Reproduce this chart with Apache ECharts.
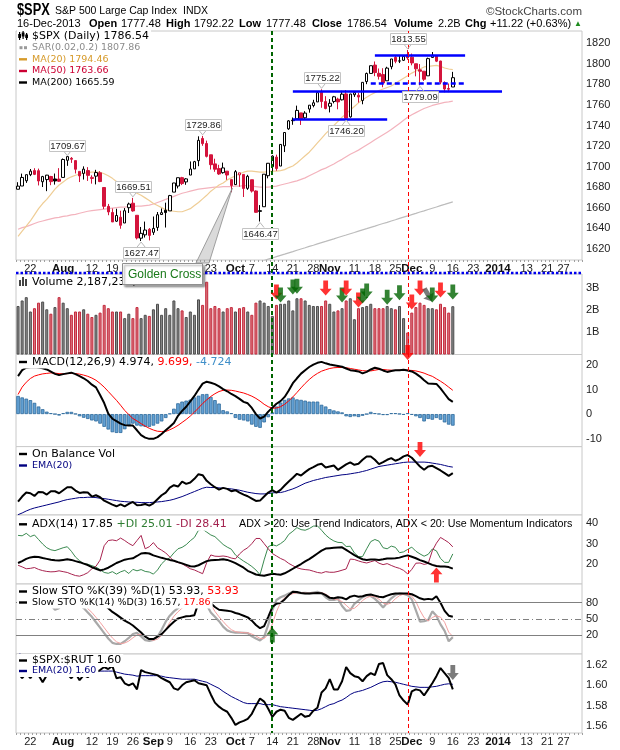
<!DOCTYPE html>
<html>
<head>
<meta charset="utf-8">
<title>$SPX daily</title>
<script src="https://cdn.jsdelivr.net/npm/echarts@6.0.0/dist/echarts.min.js"></script>
<style>
  html, body { margin: 0; padding: 0; background: #fff; }
  #chart { width: 620px; height: 750px; }
</style>
</head>
<body>
<div id="chart"></div>
<script>
// --- Data ---

const dates = ['07-17','07-18','07-19','07-22','07-23','07-24','07-25','07-26','07-29','07-30','07-31',
  '08-01','08-02','08-05','08-06','08-07','08-08','08-09','08-12','08-13','08-14','08-15','08-16','08-19','08-20','08-21','08-22','08-23','08-26','08-27','08-28','08-29','08-30',
  '09-03','09-04','09-05','09-06','09-09','09-10','09-11','09-12','09-13','09-16','09-17','09-18','09-19','09-20','09-23','09-24','09-25','09-26','09-27','09-30',
  '10-01','10-02','10-03','10-04','10-07','10-08','10-09','10-10','10-11','10-14','10-15','10-16','10-17','10-18','10-21','10-22','10-23','10-24','10-25','10-28','10-29','10-30','10-31',
  '11-01','11-04','11-05','11-06','11-07','11-08','11-11','11-12','11-13','11-14','11-15','11-18','11-19','11-20','11-21','11-22','11-25','11-26','11-27','11-29',
  '12-02','12-03','12-04','12-05','12-06','12-09','12-10','12-11','12-12','12-13','12-16',
  '12-17','12-18','12-19','12-20','12-23','12-24','12-26','12-27','12-30','12-31',
  '01-02','01-03','01-06','01-07','01-08','01-09','01-10','01-13','01-14','01-15','01-16','01-17','01-21','01-22','01-23','01-24','01-27','01-28','01-29','01-30','01-31'];

const tickDates = ['07-22','08-01','08-12','08-19','08-26','09-03','09-09','09-16','09-23','10-01','10-07','10-14','10-21','10-28','11-01','11-11','11-18','11-25','12-02','12-09','12-16','12-23','01-02','01-13','01-21','01-27'];
const tickTexts = ['22','Aug','12','19','26','Sep','9','16','23','Oct','7','14','21','28','Nov','11','18','25','Dec','9','16','23','2014','13','21','27'];
const boldTicks = ['Aug','Sep','Oct','Nov','Dec','2014'];

const opens = [1677.91,1681.05,1686.15,1692.09,1696.06,1695.95,1685.21,1687.31,1690.32,1687.92,1687.76,
  1689.42,1706.10,1708.01,1705.79,1695.30,1693.35,1696.10,1688.37,1690.65,1693.88,1679.61,1661.22,1655.25,1646.81,1650.66,1645.03,1659.92,1664.29,1652.54,1630.25,1633.50,1638.89,
  1635.95,1640.72,1653.28,1657.44,1656.85,1675.11,1681.04,1689.21,1685.04,1691.70,1697.73,1705.74,1727.34,1722.44,1711.44,1702.60,1698.02,1694.05,1695.52,1687.26,
  1682.41,1691.90,1692.35,1678.79,1687.15,1676.22,1656.99,1660.88,1691.09,1699.86,1709.17,1700.49,1720.17,1736.72,1745.20,1746.48,1752.27,1747.48,1756.01,1759.42,1762.93,1772.27,1763.24,
  1758.70,1763.40,1765.67,1765.00,1770.74,1748.37,1769.96,1769.51,1764.37,1782.75,1790.66,1798.82,1790.79,1789.59,1783.52,1797.21,1806.33,1802.87,1803.48,1808.69,
  1806.55,1800.10,1794.15,1792.82,1788.36,1806.21,1807.60,1802.76,1781.71,1776.01,1777.48];
const highs = [1684.75,1693.12,1692.09,1697.61,1698.38,1698.00,1690.94,1691.85,1690.92,1693.19,1698.43,
  1707.85,1709.67,1709.24,1705.79,1695.30,1700.18,1699.42,1691.49,1696.81,1695.52,1679.61,1663.60,1659.18,1658.92,1656.99,1659.55,1664.85,1669.51,1652.54,1641.18,1646.41,1640.08,
  1651.35,1655.72,1659.17,1664.83,1672.40,1684.09,1689.13,1689.97,1688.73,1704.95,1705.52,1729.44,1729.86,1725.23,1711.44,1707.63,1701.71,1703.85,1695.52,1687.26,
  1696.55,1693.87,1692.35,1691.94,1687.15,1676.79,1662.47,1692.56,1703.44,1711.03,1711.57,1721.76,1733.45,1745.31,1747.79,1759.33,1752.27,1753.94,1759.82,1764.99,1772.09,1775.22,1768.53,
  1765.67,1768.78,1767.03,1773.74,1774.54,1770.78,1773.44,1771.78,1782.00,1791.53,1798.22,1802.33,1795.51,1795.73,1797.16,1804.84,1808.10,1808.42,1808.27,1813.55,
  1810.02,1800.10,1799.80,1792.82,1806.04,1811.52,1808.52,1802.97,1782.99,1780.88,1792.22];
const lows = [1677.91,1681.05,1684.08,1690.67,1691.71,1681.61,1680.07,1676.03,1681.86,1682.42,1684.94,
  1689.42,1700.68,1703.55,1693.29,1684.91,1687.36,1686.02,1683.35,1682.62,1684.83,1658.59,1652.61,1646.06,1646.08,1639.43,1645.03,1654.81,1656.02,1629.05,1627.47,1630.88,1628.05,
  1633.41,1637.41,1653.07,1640.62,1656.85,1675.11,1678.70,1681.96,1682.22,1691.70,1697.73,1700.35,1720.20,1708.89,1697.10,1694.90,1691.88,1693.11,1687.11,1674.99,
  1682.07,1680.34,1670.36,1677.33,1674.70,1655.03,1646.47,1660.88,1688.52,1692.13,1695.93,1700.49,1714.12,1735.74,1740.67,1746.48,1740.50,1745.50,1752.45,1757.67,1762.93,1757.24,1755.72,
  1752.70,1761.56,1755.76,1764.40,1746.20,1747.63,1767.85,1762.29,1760.64,1780.22,1790.66,1788.00,1784.72,1777.23,1783.52,1794.70,1800.58,1800.77,1802.77,1803.98,
  1798.60,1787.85,1779.09,1783.38,1788.36,1806.21,1801.75,1780.09,1772.28,1772.45,1777.48];
const closes = [1680.91,1689.37,1692.09,1695.53,1692.39,1685.94,1690.25,1691.65,1685.33,1685.96,1685.73,
  1706.87,1709.67,1707.14,1697.37,1690.91,1697.48,1691.42,1689.47,1694.16,1685.39,1661.32,1655.83,1646.06,1652.35,1642.80,1656.96,1663.50,1656.78,1630.48,1634.96,1638.17,1632.97,
  1639.77,1653.08,1655.08,1655.17,1671.71,1683.99,1689.13,1683.42,1687.99,1697.60,1704.76,1725.52,1722.34,1709.91,1701.84,1697.42,1692.77,1698.67,1691.75,1681.55,
  1695.00,1693.87,1678.66,1690.50,1676.12,1655.45,1656.40,1692.56,1703.20,1710.14,1698.06,1721.54,1733.15,1744.50,1744.66,1754.67,1746.38,1752.07,1759.77,1762.11,1771.95,1763.31,1756.54,
  1761.64,1767.93,1762.97,1770.49,1747.15,1770.61,1771.89,1767.69,1782.00,1790.62,1798.18,1791.53,1787.87,1781.37,1795.85,1804.76,1802.48,1802.75,1807.23,1805.81,
  1800.90,1795.15,1792.81,1785.03,1805.09,1808.37,1802.62,1782.22,1775.50,1775.32,1786.54];

const ma20 = [1632,1637,1642,1647,1653,1659,1664,1668,1673,1678,
  1682,1685,1688,1690,1691.5,1692.5,1693.5,1694,1694.5,1694.5,
  1694.5,1693,1691,1688.5,1685.5,1683,1680.5,1678,1676,1674,
  1672,1669.5,1667,1664,1662,1660,1658,1657,1656.5,1656,
  1656,1657.5,1659,1662,1665,1668.5,1672,1676,1679,1682,
  1684,1687,1689,1691,1693,1694.5,1695.5,1695.5,1695,1694.5,
  1694.5,1695,1695.5,1695.5,1696,1697,1699,1700.5,1703.5,1707,
  1710.5,1714,1718.5,1723,1727.5,1732,1736,1740,1744,1748,
  1751.5,1755,1758.5,1762,1765,1767.5,1770,1772,1774,1775.5,
  1777,1778.5,1781,1783.5,1786,1788.5,1791,1793,1795,1797,
  1797.5,1798,1798.5,1797.5,1796,1795,1794.46];
const ma50 = [1639,1640.5,1641.5,1643,1644.5,1646,1647,1648,1649,1650,
  1650.5,1651.5,1652,1653,1653.5,1654.5,1655.5,1656.5,1657,1657.5,
  1658,1658.5,1659,1659.5,1660,1660.5,1660.5,1661,1661,1661.5,
  1661.5,1662,1662.5,1663.5,1665,1666.5,1668,1669.5,1671,1672.5,
  1674,1675,1676,1677,1678,1678.5,1679,1679.5,1680,1680,
  1680.5,1680.5,1680.5,1681,1681,1681.5,1681.5,1681,1680.5,1680,
  1680,1680,1680.5,1681,1682,1683,1684,1685,1686,1687.5,
  1689,1691,1693,1695,1697,1698.5,1700.5,1702.5,1705,1707,
  1709.5,1712,1714,1716,1718.5,1721,1723.5,1726,1728.5,1731,
  1733.5,1736,1739,1742,1745,1748,1750.5,1752.5,1754.5,1756.5,
  1758,1759.5,1760.5,1761.5,1762.5,1763,1763.66];
const ma200 = [1538.6,1539.8,1540.9,1542.1,1543.2,1544.4,1545.5,1546.7,1547.8,1549.0,
  1550.1,1551.3,1552.4,1553.6,1554.7,1555.9,1557.0,1558.2,1559.3,1560.5,
  1561.6,1562.8,1563.9,1565.1,1566.2,1567.4,1568.5,1569.7,1570.8,1572.0,
  1573.1,1574.3,1575.4,1576.6,1577.7,1578.9,1580.0,1581.2,1582.3,1583.5,
  1584.6,1585.8,1586.9,1588.1,1589.2,1590.4,1591.5,1592.7,1593.8,1595.0,
  1596.1,1597.4,1598.6,1599.9,1601.1,1602.3,1603.6,1604.8,1606.1,1607.3,
  1608.5,1609.8,1611.0,1612.3,1613.5,1614.7,1616.0,1617.2,1618.5,1619.7,
  1620.9,1622.2,1623.4,1624.7,1625.9,1627.1,1628.4,1629.6,1630.9,1632.1,
  1633.3,1634.6,1635.8,1637.1,1638.3,1639.5,1640.8,1642.0,1643.3,1644.5,
  1645.7,1647.0,1648.2,1649.5,1650.7,1651.9,1653.2,1654.4,1655.7,1656.9,
  1658.2,1659.4,1660.6,1661.9,1663.1,1664.4,1665.59];

// volume in billions
const volumes = [2.2,2.45,2.6,1.95,2.1,2.35,2.4,2.05,1.85,2.15,
  2.6,2.35,2.1,1.8,1.95,1.95,2.05,1.85,1.7,1.8,
  1.9,2.25,2.1,1.95,1.95,1.95,1.65,1.85,1.65,2.15,
  1.65,1.8,1.75,2.05,2.3,1.8,2.1,1.8,2.45,2.1,
  2.0,1.7,1.95,1.8,2.5,2.25,3.3,2.1,2.2,2.1,
  1.95,2.1,2.15,1.95,2.1,2.15,1.95,1.8,2.35,2.45,
  2.35,2.2,1.75,2.25,2.3,2.3,2.45,2.0,2.55,2.55,
  2.45,2.25,2.2,2.2,2.2,2.45,2.3,1.95,2.0,2.1,
  2.45,2.55,1.6,2.1,2.15,2.2,2.3,2.1,2.1,2.1,
  2.2,2.1,2.05,2.2,1.65,1.0,1.9,2.15,2.35,2.25,
  2.1,2.1,2.05,2.3,2.15,1.9,2.19];

const macdLine = [15.5,17.9,18.9,19.1,19.2,19.0,18.7,18.2,17.3,16.4,
  15.9,16.3,16.6,16.9,16.3,15.5,14.6,13.5,12.0,10.9,
  7.8,4.5,0.2,-1.9,-2.9,-3.9,-4.5,-4.7,-4.7,-6.6,
  -8.6,-9.6,-10.1,-10.1,-9.4,-8.1,-6.6,-5.2,-3.6,-0.7,
  1.3,3.0,5.2,7.4,10.0,12.4,13.2,12.8,12.2,11.3,
  10.2,9.3,8.2,7.3,6.2,5.0,4.4,2.5,0.0,-1.8,
  -1.0,1.0,2.6,4.2,5.3,7.0,9.6,12.6,14.6,16.5,
  17.9,19.2,20.2,20.9,21.3,20.7,20.2,19.9,19.6,19.3,
  18.6,17.9,17.7,17.4,16.6,17.2,18.2,18.9,18.5,17.8,
  17.2,17.6,17.9,17.9,18.1,17.8,17.4,16.5,15.3,13.8,
  12.5,12.4,12.3,10.5,8.3,6.1,4.97];
const macdSignal = [8.0,11.0,13.0,14.5,15.5,16.0,16.4,16.6,16.8,16.7,
  16.5,16.4,16.5,16.6,16.5,16.3,15.9,15.4,14.7,13.8,
  12.5,11.0,9.2,7.4,5.6,3.6,1.5,-0.2,-1.8,-2.8,
  -3.9,-4.9,-5.8,-6.5,-7.0,-7.1,-7.1,-6.4,-5.6,-4.6,
  -3.4,-2.2,-0.8,0.8,2.5,4.3,5.8,7.2,8.3,9.2,
  9.7,9.8,9.7,9.4,9.0,8.6,8.0,7.3,6.4,5.3,
  4.0,3.0,2.4,2.5,3.0,4.0,5.4,7.0,8.8,10.7,
  12.5,14.1,15.5,16.6,17.5,18.1,18.6,18.9,19.0,19.0,
  18.9,18.6,18.3,18.0,17.7,17.6,17.6,17.9,18.2,18.2,
  18.0,17.9,17.8,17.9,17.9,17.9,17.8,17.6,17.2,16.7,
  16.0,15.4,14.4,13.4,12.3,11.0,9.70];
const macdHist = [7.4,6.8,6.3,5.7,4.6,3.1,2.0,1.0,0.4,0.0,
  -0.6,0.4,0.9,0.9,0.1,-0.9,-1.5,-2.0,-2.6,-3.0,
  -3.9,-5.2,-6.3,-7.4,-7.7,-7.7,-6.2,-4.7,-3.9,-4.7,
  -5.0,-5.2,-5.2,-4.7,-3.9,-3.0,-1.6,0.2,2.2,4.4,
  5.1,5.5,5.9,6.8,7.5,8.1,8.2,7.0,5.7,4.3,
  1.6,1.1,0.4,-1.6,-2.3,-2.6,-3.0,-4.3,-5.2,-5.6,
  -3.4,-1.3,0.7,3.1,4.7,5.8,6.4,6.8,6.0,5.8,
  5.5,5.1,5.1,5.1,3.8,3.1,2.0,1.5,1.1,0.7,
  -0.9,-1.2,-0.9,-1.2,-0.7,0.0,0.9,0.4,0.1,-0.4,
  -0.4,0.4,0.4,0.1,-0.3,0.4,-0.3,-0.9,-1.6,-3.0,
  -2.0,-2.3,-1.6,-2.3,-3.4,-4.3,-4.72];

// on balance volume, relative units (panel has no scale)
const obv = [45,60,72,70,62,74,73,66,76,76,
  70,79,88,88,78,71,73,72,60,64,
  58,48,42,36,31,37,31,38,44,34,
  35,38,33,40,52,64,72,87,94,90,
  105,98,102,113,127,124,107,97,88,81,
  86,83,76,79,72,66,61,54,47,48,
  60,72,79,72,80,93,105,116,128,123,
  133,142,148,155,158,147,150,153,140,148,
  156,162,155,158,170,180,180,170,157,163,
  170,175,167,172,180,184,176,163,150,140,
  150,152,145,138,130,122,130];
const obvEma = [6,11,17,22,26,29,32,35,38,41,
  44,48,51,53,55,57,57,58,58,57,
  55,54,52,50,48,46,45,44,43,43,
  42,42,42,43,44,45,47,49,52,56,
  60,65,70,75,80,85,88,87,87,86,
  85,84,83,81,79,76,73,71,69,68,
  68,69,71,72,72,75,79,83,88,94,
  100,104,108,111,114,117,119,121,123,125,
  126,128,130,132,135,138,142,146,150,152,
  154,156,158,160,162,163,163,163,163,163,
  162,160,158,156,153,150,148];

const adx = [20.6,21.5,22.6,23.3,23.6,23.5,23.0,22.6,22.2,21.9,
  21.8,22.1,22.4,22.1,21.5,21.0,20.3,19.6,18.6,17.8,
  17.0,17.5,18.3,19.4,20.6,21.4,22.2,22.6,22.9,24.0,
  25.2,25.5,25.2,24.3,23.7,23.1,22.6,22.1,21.7,21.0,
  20.4,19.7,19.0,18.9,19.5,20.5,21.5,21.9,22.1,22.2,
  22.4,22.1,21.4,20.5,19.4,18.3,16.8,15.9,15.0,14.6,
  14.4,14.9,15.4,15.1,14.9,15.6,16.6,17.8,19.0,20.1,
  21.4,22.5,23.8,25.2,26.6,27.6,27.8,28.0,28.1,28.2,
  27.0,25.7,24.4,23.3,22.4,22.1,22.3,22.3,22.1,22.4,
  22.8,22.8,22.9,23.2,23.8,24.3,23.6,22.9,22.0,21.3,
  20.5,19.7,19.1,18.9,18.9,18.6,17.85];
const plusDi = [34.0,33.8,35.0,33.4,34.2,32.0,29.8,28.0,27.0,26.6,
  27.3,28.0,28.5,26.3,23.5,21.7,20.3,20.0,19.3,18.6,
  17.4,16.0,15.6,16.4,15.2,16.3,17.0,15.5,17.5,16.8,
  17.4,16.5,16.2,15.2,17.2,20.2,22.1,23.1,25.5,27.5,
  28.2,29.5,31.4,33.0,36.5,37.0,35.6,34.2,33.4,31.5,
  29.6,28.3,27.3,24.5,22.9,21.5,20.3,18.9,17.2,14.9,
  22.1,28.5,29.5,28.9,30.0,31.5,34.5,36.0,37.8,36.8,
  36.5,37.3,38.5,38.6,36.5,34.2,32.5,31.3,30.6,30.5,
  28.6,28.7,25.5,23.7,23.7,27.5,31.0,32.0,31.2,28.0,
  27.5,28.8,28.2,25.6,26.0,27.2,28.3,26.3,25.0,23.9,
  24.8,27.4,26.5,22.8,20.9,20.9,25.01];
const minusDi = [19.5,18.7,17.8,18.0,18.4,17.5,16.9,16.5,16.3,16.4,
  16.8,16.4,16.0,15.2,14.5,14.2,14.9,15.9,17.8,19.0,
  22.0,29.0,31.5,31.8,31.4,32.7,31.5,30.1,29.0,31.5,
  34.0,27.5,28.5,30.5,28.0,26.8,25.5,23.5,21.5,20.8,
  20.2,19.0,17.8,17.2,16.3,15.4,20.8,24.5,23.9,23.8,
  24.0,23.7,23.0,22.6,25.0,26.8,28.0,30.0,32.5,32.5,
  30.0,27.5,25.2,24.0,22.8,21.9,20.4,19.3,18.3,17.7,
  17.4,17.2,16.6,16.0,15.7,16.4,16.1,16.1,16.5,17.1,
  17.7,22.5,22.3,21.6,21.0,20.6,21.2,21.8,20.5,19.8,
  20.3,19.4,18.6,18.0,17.0,15.3,17.5,20.5,20.6,19.9,
  20.4,26.5,30.2,33.0,31.8,30.5,28.41];

const stoSlow39 = [92,94,95,96,94,91,92,90,89,88,
  93,96,95,92,90,89,90,86,84,82,
  80,76,69.6,63,58,52.5,47,43,38,31.5,
  25,17.5,13,13,17.5,22,30,38,45,51,
  53,55,55.5,57,80,93,86,79,72,67,
  66,65,64,61,59,56,53,47,39,33,
  37,54,72,78,80,86,94,100,99.5,98,
  97,97,97.5,98,97.5,94,89,88,90,89,
  86,91,93,91,92,94,95,93,91,90,
  93,95.5,97,97,97,97,95.5,92,88,86,
  87,86,92,80,65,56,53.93];
const sto14K = [82,86,90,92,86,80,82,78,76,67,
  70,80,88,92,86,76,70,62,54,44,
  34,24,14,6,4,4,9,15,22.4,24.5,
  18,11,9.6,11.4,17,30,45,56,64,70,
  76,84,92,96,97,92,76,62,54,46,
  36,29,26,25,25,24.5,24,18,14,10.5,
  17,39,66,85,90,93,97,100,98,97.5,
  98,97,98.5,100,97.5,90,85,85,87,74,
  65,66,78,84,90,94,92,87,80,71,
  80,88,94,97,96,94,86,66,45,46,
  48,64,56,40,28,9,16.57];
const sto14D = [80,83,86,89,89,86,83,80,79,74,
  71,72,79,87,89,85,77,69,62,53,
  44,34,24,15,8,4.7,5.7,9.3,15.3,20.5,
  21.5,17.8,12.9,10.7,12.7,19.5,30.7,43.7,55,63.3,
  70,76.7,84,90.7,95,95,88.3,76.7,64,54,
  45.3,37,30.3,26.7,25.3,24.8,24.5,22.2,18.7,14.2,
  13.8,22.2,40.7,63.3,80.3,89.3,93.3,96.7,98.3,98.5,
  97.8,97.5,97.8,98.5,98.7,95.8,90.8,86.7,85.7,82,
  75.3,68.3,69.7,76,84,89.3,92,91,86.3,79.3,
  77,79.7,87.3,93,95.7,95.7,92,82,65.7,52.3,
  46.3,52.7,56,53.3,44,25.7,17.86];

const spxRut = [1.612,1.607,1.612,1.607,1.613,1.610,1.603,1.610,1.614,1.612,
  1.615,1.613,1.611,1.607,1.612,1.605,1.610,1.608,1.612,1.613,
  1.615,1.618,1.616,1.619,1.607,1.608,1.602,1.600,1.602,1.596,
  1.615,1.613,1.612,1.611,1.610,1.607,1.605,1.603,1.597,1.5955,
  1.600,1.603,1.604,1.605,1.602,1.601,1.600,1.591,1.583,1.579,
  1.576,1.574,1.568,1.561,1.5635,1.565,1.567,1.572,1.580,1.587,
  1.584,1.577,1.569,1.574,1.576,1.575,1.568,1.566,1.569,1.572,
  1.569,1.570,1.575,1.578,1.593,1.597,1.606,1.596,1.596,1.604,
  1.618,1.612,1.609,1.608,1.604,1.609,1.612,1.610,1.621,1.622,
  1.610,1.606,1.601,1.590,1.585,1.581,1.594,1.596,1.595,1.590,
  1.596,1.602,1.609,1.617,1.612,1.607,1.596];
const spxRutEma = [1.634,1.628,1.624,1.621,1.619,1.618,1.617,1.616,1.616,1.615,
  1.615,1.615,1.615,1.614,1.614,1.614,1.614,1.614,1.614,1.614,
  1.614,1.614,1.614,1.614,1.613,1.612,1.611,1.6105,1.610,1.609,
  1.6095,1.6095,1.6095,1.6095,1.6095,1.609,1.608,1.6075,1.607,1.6065,
  1.606,1.606,1.606,1.606,1.605,1.604,1.603,1.601,1.599,1.597,
  1.594,1.5915,1.589,1.587,1.585,1.583,1.582,1.582,1.582,1.582,
  1.581,1.581,1.581,1.580,1.579,1.5785,1.578,1.5775,1.577,1.5765,
  1.576,1.5755,1.575,1.5755,1.577,1.579,1.581,1.582,1.584,1.5855,
  1.588,1.591,1.593,1.594,1.595,1.5965,1.598,1.600,1.602,1.6035,
  1.604,1.6035,1.603,1.602,1.601,1.600,1.599,1.5985,1.598,1.598,
  1.598,1.5985,1.599,1.600,1.601,1.6015,1.601];

// axis tick labels
const priceTicks = [1620,1640,1660,1680,1700,1720,1740,1760,1780,1800,1820];
const volTicks = [1,2,3];
const macdTicks = [-10,0,10,20];
const adxTicks = [20,30,40];
const stoTicks = [20,50,80];
const ratioTicks = [1.56,1.58,1.60,1.62];

// annotations
const peakIdx = [12,30,28,45,59,74,80,95,98];
const peakVal = [1709.67,1627.47,1669.51,1729.86,1646.47,1775.22,1746.20,1813.55,1779.09];
const peakSide = [1,-1,1,1,-1,1,-1,1,-1];

const trendFrom = [87,86,67,67];
const trendTo = [109,109,118,90];
const trendPrice = [1808.4,1781,1773.5,1746.5];
const trendDashed = [false,true,false,false];

const markDays = ['10-14','11-29'];

const volArrowIdx = [63,64,67,68,75,79,80,83,84,85,90,93,96,98,100,101,103,106];
const volArrowVal = [2.83,2.70,3.06,3.10,3.01,2.70,3.01,2.47,2.65,2.88,2.60,2.80,2.38,3.01,2.70,2.70,2.92,2.83];
const volArrowKind = ['red','green','green','green','red','green','red','red','green','green','green','green','red','red','gray','green','red','green'];

// --- Chart ---

const chart = echarts.init(document.getElementById('chart'));

const RED = '#d4143c';
const SANS = '"Liberation Sans", Arial, sans-serif';
const LEG = '"DejaVu Sans", Verdana, sans-serif';
const ARROW_DOWN = 'path://M3,0L7,0L7,7L10,7L5,13L0,7L3,7Z';
const ARROW_UP = 'path://M5,0L10,6L7,6L7,13L3,13L3,6L0,6Z';
const arrowColor = { red: '#ff0000', green: '#006400', gray: '#5a5a5a' };

const panels = [
  { top: 31, height: 229, min: 1609, max: 1832, ticks: priceTicks, fmt: v => String(v) },
  { top: 274, height: 80.5, min: 0, max: 3.65, ticks: volTicks, fmt: v => v + 'B' },
  { top: 354.5, height: 92.2, min: -13.3, max: 24.3, ticks: macdTicks, fmt: v => String(v) },
  { top: 446.7, height: 68.3, min: 5, max: 209, ticks: null, fmt: null },
  { top: 515, height: 69, min: 10.4, max: 43.9, ticks: adxTicks, fmt: v => String(v) },
  { top: 584, height: 70, min: -14.5, max: 114.4, ticks: stoTicks, fmt: v => String(v) },
  { top: 654, height: 79, min: 1.5531, max: 1.6308, ticks: ratioTicks, fmt: v => v.toFixed(2) }
];

const tickFormatter = (value) => {
  const k = tickDates.indexOf(value);
  if (k < 0) return '';
  const t = tickTexts[k];
  return boldTicks.includes(t) ? '{b|' + t + '}' : t;
};

const grids = panels.map(p => ({
  left: 16, right: 38, top: p.top, height: p.height,
  show: true, borderColor: '#c8c8c8', borderWidth: 1, backgroundColor: '#fff',
  containLabel: false, outerBoundsMode: 'none'
}));

const xAxes = panels.map((p, k) => {
  const labelled = k === 0 || k === panels.length - 1;
  return {
    gridIndex: k, type: 'category', data: dates, boundaryGap: true,
    axisLine: { show: false },
    axisTick: { show: labelled, interval: 0, length: 2, lineStyle: { color: '#a0a0a0' } },
    axisLabel: {
      show: labelled, interval: (i, v) => tickDates.includes(v), formatter: tickFormatter,
      margin: 3, fontSize: 11, fontFamily: SANS, color: '#222',
      rich: { b: { fontWeight: 'bold', fontSize: 11.5, fontFamily: SANS, color: '#111' } }
    },
    splitLine: { show: false }
  };
});

const yAxes = panels.map((p, k) => ({
  gridIndex: k, type: 'value', position: 'right', min: p.min, max: p.max, scale: true,
  axisLine: { show: false }, axisTick: { show: false }, splitLine: { show: false },
  axisLabel: p.ticks ? {
    show: true, customValues: p.ticks, formatter: p.fmt,
    margin: 4, fontSize: 11, fontFamily: SANS, color: '#222'
  } : { show: false }
}));

const line = (grid, data, color, width, z) => ({
  type: 'line', xAxisIndex: grid, yAxisIndex: grid, data,
  symbol: 'none', showSymbol: false, silent: true, z: z || 3,
  lineStyle: { color, width }, itemStyle: { color }
});

const arrows = (grid, idxs, vals, kinds, path, rotateGray) => ({
  type: 'scatter', xAxisIndex: grid, yAxisIndex: grid, clip: false, silent: true, z: 20,
  data: idxs.map((i, k) => ({
    value: [dates[i], vals[k]],
    symbol: path, symbolSize: [12, 15],
    symbolRotate: rotateGray && kinds[k] === 'gray' ? 30 : 0,
    itemStyle: { color: arrowColor[kinds[k]] }
  }))
});

const candleData = opens.map((o, i) => {
  const c = closes[i];
  const prev = i > 0 ? closes[i - 1] : o;
  const edge = c >= prev ? '#000000' : RED;
  const body = c >= o ? '#ffffff' : edge;
  return {
    value: [o, c, lows[i], highs[i]],
    itemStyle: { color: body, color0: body, borderColor: edge, borderColor0: edge, borderWidth: 1 }
  };
});

const volumeData = volumes.map((v, i) => {
  const down = i > 0 && closes[i] < closes[i - 1];
  return {
    value: v,
    itemStyle: {
      color: down ? '#d9767d' : '#8a8a8a',
      borderColor: down ? '#c4283c' : '#4c4c4c', borderWidth: 1
    }
  };
});

const trendLines = trendFrom.map((f, k) => [
  { coord: [dates[f], trendPrice[k]], lineStyle: { color: '#0000ff', width: 2.5, type: trendDashed[k] ? [5, 3] : 'solid' } },
  { coord: [dates[trendTo[k]], trendPrice[k]] }
]);

const peakLabels = {
  type: 'custom', xAxisIndex: 0, yAxisIndex: 0, clip: false, silent: true, z: 12,
  data: peakIdx.map((i, k) => [i, peakVal[k], peakSide[k]]),
  encode: { x: 0, y: 1 },
  renderItem: (params, api) => {
    const pt = api.coord([api.value(0), api.value(1)]);
    const side = api.value(2);
    const text = api.value(1).toFixed(2);
    const w = 36, h = 11, gap = 6;
    const top = side > 0 ? pt[1] - gap - h : pt[1] + gap;
    const edge = side > 0 ? top + h : top;
    const bx = Math.round(pt[0] - w / 2) + 0.5, by = Math.round(top) + 0.5;
    return {
      type: 'group',
      children: [
        { type: 'polyline', shape: { points: [[pt[0] - 4, edge], [pt[0], pt[1] - side], [pt[0] + 4, edge]] },
          style: { stroke: '#b8b8b8', fill: null, lineWidth: 1 } },
        { type: 'rect', shape: { x: bx, y: by, width: w, height: h },
          style: { fill: '#ffffff', stroke: '#c4c4c4', lineWidth: 1 } },
        { type: 'text', style: { text, x: bx + w / 2, y: by + h / 2 + 0.5, align: 'center', verticalAlign: 'middle',
          font: '9.5px ' + SANS, fill: '#222' } }
      ]
    };
  }
};

const stoGuides = {
  silent: true, symbol: ['none', 'none'], label: { show: false },
  data: [
    { yAxis: 80, lineStyle: { color: '#808080', width: 1, type: 'solid' } },
    { yAxis: 50, lineStyle: { color: '#808080', width: 1, type: [6, 3, 1, 3] } },
    { yAxis: 20, lineStyle: { color: '#808080', width: 1, type: 'solid' } }
  ]
};

const series = [
  line(0, ma200, '#bcbcbc', 1.2, 2),
  line(0, ma50, '#f3b3bd', 1.2, 2),
  line(0, ma20, '#efcd95', 1.2, 2),
  {
    type: 'candlestick', xAxisIndex: 0, yAxisIndex: 0, data: candleData, barWidth: 3, silent: true, z: 4,
    markLine: { silent: true, symbol: ['none', 'none'], label: { show: false }, data: trendLines, z: 6 }
  },
  peakLabels,

  { type: 'bar', xAxisIndex: 1, yAxisIndex: 1, data: volumeData, barWidth: 3, silent: true, z: 3 },
  arrows(1, volArrowIdx, volArrowVal, volArrowKind, ARROW_DOWN, true),

  { type: 'bar', xAxisIndex: 2, yAxisIndex: 2, data: macdHist, barWidth: 3.6, silent: true, z: 2,
    itemStyle: { color: '#62a0d3', borderColor: '#2d6a9c', borderWidth: 0.8 } },
  line(2, macdSignal, '#ff0000', 1, 3),
  line(2, macdLine, '#000000', 2, 4),
  arrows(2, [95], [25.1], ['red'], ARROW_DOWN),

  line(3, obvEma, '#000080', 1, 3),
  line(3, obv, '#000000', 2, 4),
  arrows(3, [98], [200.6], ['red'], ARROW_DOWN),

  line(4, plusDi, '#3a8a50', 1, 3),
  line(4, minusDi, '#a8234f', 1, 3),
  line(4, adx, '#000000', 2, 4),
  arrows(4, [102], [14.8], ['red'], ARROW_UP),

  Object.assign(line(5, sto14K, '#a9a9a9', 2.2, 3), { markLine: stoGuides }),
  line(5, sto14D, '#f4a0a0', 1, 3),
  line(5, stoSlow39, '#000000', 2, 4),
  arrows(5, [62], [20.5], ['green'], ARROW_UP),

  line(6, spxRutEma, '#000080', 1, 3),
  line(6, spxRut, '#000000', 2, 4),
  arrows(6, [106], [1.6126], ['gray'], ARROW_DOWN)
];

chart.setOption({
  animation: false,
  backgroundColor: '#ffffff',
  grid: grids,
  xAxis: xAxes,
  yAxis: yAxes,
  series
});

// --- Overlay: header, legends, marker lines, callout ---

const txt = (x, y, text, font, fill, align) => ({
  type: 'text', z: 100, silent: true,
  style: { text, x, y, font, fill: fill || '#000', align: align || 'left', verticalAlign: 'middle' }
});
const legendLine = (y, text, font, fill, rich) => ({
  type: 'text', z: 100, silent: true,
  style: { text, x: 17, y, font, fill: fill || '#000', rich, verticalAlign: 'middle',
    backgroundColor: '#ffffff', padding: [1, 2, 1, 15] }
});
const dash = (y, color) => ({ type: 'rect', z: 101, silent: true, shape: { x: 19, y: y - 1.2, width: 8, height: 2.4 }, style: { fill: color } });

const graphics = [];

// header
graphics.push({ type: 'text', z: 100, silent: true, x: 17, y: 11, scaleX: 0.8,
  style: { text: '$SPX', x: 0, y: 0, font: 'bold 16px ' + SANS, fill: '#000', align: 'left', verticalAlign: 'middle' } });
graphics.push(txt(55, 11.5, 'S&P 500 Large Cap Index', '10.5px ' + SANS));
graphics.push(txt(183, 11.5, 'INDX', '10.5px ' + SANS));
graphics.push(txt(582, 11.5, '\u00a9StockCharts.com', '11.5px ' + SANS, '#444', 'right'));
const hdrParts = [
  [17, '16-Dec-2013', false], [89, 'Open', true], [121, '1777.48', false], [166, 'High', true], [194, '1792.22', false],
  [239, 'Low', true], [266, '1777.48', false], [312, 'Close', true], [347, '1786.54', false],
  [394, 'Volume', true], [438, '2.2B', false], [465, 'Chg', true], [490, '+11.22 (+0.63%)', false]
];
hdrParts.forEach(([x, t, b]) => graphics.push(txt(x, 23.5, t, (b ? 'bold ' : '') + '11px ' + SANS)));
graphics.push(txt(574, 23.5, '\u25b2', '8px ' + SANS, '#1e8c1e'));

// price legend
graphics.push(legendLine(35.7, '$SPX (Daily) 1786.54', '11px ' + LEG));
graphics.push({ type: 'group', z: 101, silent: true, children: [
  { type: 'rect', z: 101, shape: { x: 19, y: 32, width: 1.2, height: 8 }, style: { fill: '#000' } },
  { type: 'rect', z: 101, shape: { x: 18.2, y: 34, width: 2.8, height: 4 }, style: { fill: '#000' } },
  { type: 'rect', z: 101, shape: { x: 22.5, y: 31, width: 1.2, height: 8 }, style: { fill: '#000' } },
  { type: 'rect', z: 101, shape: { x: 21.7, y: 32.5, width: 2.8, height: 4 }, style: { fill: '#000' } },
  { type: 'rect', z: 101, shape: { x: 26, y: 33, width: 1.2, height: 7 }, style: { fill: '#000' } },
  { type: 'rect', z: 101, shape: { x: 25.2, y: 34.5, width: 2.8, height: 3.5 }, style: { fill: '#000' } }
] });
graphics.push(legendLine(47.7, 'SAR(0.02,0.2) 1807.86', '9.5px ' + LEG, '#8c8c8c'));
graphics.push({ type: 'rect', z: 101, silent: true, shape: { x: 19.5, y: 46.2, width: 3, height: 3 }, style: { fill: '#9a9a9a' } });
graphics.push({ type: 'rect', z: 101, silent: true, shape: { x: 24, y: 46.2, width: 3, height: 3 }, style: { fill: '#9a9a9a' } });
graphics.push(legendLine(59.3, 'MA(20) 1794.46', '9.5px ' + LEG, '#d69a2a'));
graphics.push(dash(59.3, '#d69a2a'));
graphics.push(legendLine(71, 'MA(50) 1763.66', '9.5px ' + LEG, '#cc0033'));
graphics.push(dash(71, '#cc0033'));
graphics.push(legendLine(82.5, 'MA(200) 1665.59', '9.5px ' + LEG, '#000'));
graphics.push(dash(82.5, '#000'));

// volume legend
graphics.push(legendLine(282, 'Volume 2,187,230,000', '11px ' + LEG));
[[19, 6], [22, 9], [25, 7]].forEach(([x, h]) => graphics.push({ type: 'rect', z: 101, silent: true,
  shape: { x, y: 286 - h, width: 2, height: h }, style: { fill: '#444' } }));

// macd legend
graphics.push(legendLine(362, '{a|MACD(12,26,9) 4.974, }{b|9.699, }{c|-4.724}', '11px ' + LEG, '#000', {
  a: { fill: '#000', font: '11px ' + LEG }, b: { fill: '#ff0000', font: '11px ' + LEG }, c: { fill: '#3f8fc9', font: '11px ' + LEG } }));
graphics.push(dash(362, '#000'));

// obv legend
graphics.push(legendLine(454, 'On Balance Vol', '11px ' + LEG));
graphics.push(dash(454, '#000'));
graphics.push(legendLine(465.5, 'EMA(20)', '9.5px ' + LEG, '#000080'));
graphics.push(dash(465.5, '#000080'));

// adx legend
graphics.push(legendLine(524.3, '{a|ADX(14) 17.85 }{b|+DI 25.01 }{c|-DI 28.41}', '11px ' + LEG, '#000', {
  a: { fill: '#000', font: '11px ' + LEG }, b: { fill: '#2e7d32', font: '11px ' + LEG }, c: { fill: '#a3224e', font: '11px ' + LEG } }));
graphics.push(dash(524.3, '#000'));
graphics.push(txt(239, 524.5, 'ADX > 20: Use Trend Indicators, ADX < 20: Use Momentum Indicators', '10.7px ' + SANS));

// sto legend
graphics.push(legendLine(591.5, '{a|Slow STO %K(39) %D(1) 53.93, }{b|53.93}', '11px ' + LEG, '#000', {
  a: { fill: '#000', font: '11px ' + LEG }, b: { fill: '#ff0000', font: '11px ' + LEG } }));
graphics.push(dash(591.5, '#000'));
graphics.push(legendLine(602.5, '{a|Slow STO %K(14) %D(3) 16.57, }{b|17.86}', '9.5px ' + LEG, '#000', {
  a: { fill: '#000', font: '9.5px ' + LEG }, b: { fill: '#ff0000', font: '9.5px ' + LEG } }));
graphics.push(dash(602.5, '#000'));

// ratio legend
graphics.push(legendLine(660.5, '$SPX:$RUT 1.60', '11px ' + LEG));
graphics.push(dash(660.5, '#000'));
graphics.push(legendLine(671, 'EMA(20) 1.60', '9.5px ' + LEG, '#000080'));
graphics.push(dash(671, '#000080'));

// blue dotted separator under the price panel
graphics.push({ type: 'line', z: 50, silent: true, shape: { x1: 16, y1: 273, x2: 582, y2: 273 },
  style: { stroke: '#0000ee', lineWidth: 2.5, lineDash: [2.5, 2] } });

// vertical event lines through all panels
const greenX = Math.round(chart.convertToPixel({ xAxisIndex: 0 }, markDays[0]));
const redX = Math.round(chart.convertToPixel({ xAxisIndex: 0 }, markDays[1])) + 0.5;
graphics.push({ type: 'line', z: 8, silent: true, shape: { x1: greenX, y1: 31, x2: greenX, y2: 733 },
  style: { stroke: '#006400', lineWidth: 2, lineDash: [4, 3] } });
graphics.push({ type: 'line', z: 8, silent: true, shape: { x1: redX, y1: 31, x2: redX, y2: 733 },
  style: { stroke: '#ff0000', lineWidth: 1, lineDash: [4, 3] } });

// Golden Cross callout
const tip = chart.convertToPixel({ gridIndex: 0 }, ['09-30', 1679]);
graphics.push({ type: 'polygon', z: 109, silent: true,
  shape: { points: [[196, 263], [209, 263], [tip[0] + 1, tip[1]]] },
  style: { fill: 'rgba(150,150,150,0.35)', stroke: '#8a8a8a', lineWidth: 0.8 } });
graphics.push({ type: 'rect', z: 110, silent: true, shape: { x: 122.5, y: 263.5, width: 80, height: 21 },
  style: { fill: '#ffffff', stroke: '#909090', lineWidth: 1, shadowBlur: 2, shadowOffsetX: 2, shadowOffsetY: 2, shadowColor: 'rgba(0,0,0,0.35)' } });
graphics.push(Object.assign(txt(128, 274.5, 'Golden Cross', '12px ' + SANS, '#1a7a1a'), { z: 111 }));

chart.setOption({ graphic: graphics });
</script>
</body>
</html>
